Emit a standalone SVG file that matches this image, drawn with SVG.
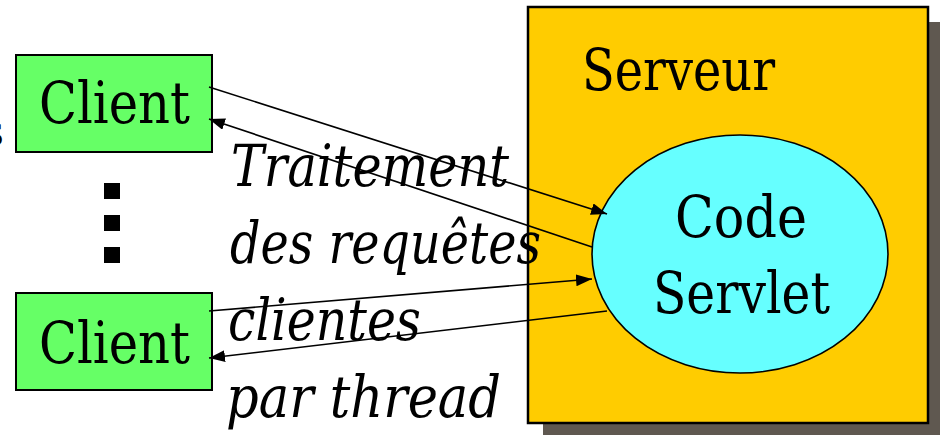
<svg xmlns="http://www.w3.org/2000/svg" width="940" height="435" viewBox="0 0 940 435">
<style>
text{font-family:'DejaVu Serif','Liberation Serif',serif;font-size:57px;fill:#000}
.i{font-style:italic}
.c{stroke:#000;stroke-width:1.6;fill:none}
.box{fill:#66ff66;stroke:#000;stroke-width:2}
</style>
<defs>
<marker id="ah" markerUnits="userSpaceOnUse" markerWidth="17" markerHeight="13" refX="16" refY="6" orient="auto">
<path d="M0,0 L16,6 L0,12 z" fill="#000"/>
</marker>
</defs>
<rect width="940" height="435" fill="#fff"/>
<text x="4" y="146" text-anchor="end" style="font-size:44px">s</text>
<g id="serveur">
<rect x="543" y="22" width="400" height="416" fill="#5f5850"/>
<rect x="528" y="7" width="400" height="416" fill="#ffcc00" stroke="#000" stroke-width="2.5"/>
<text x="582" y="90" textLength="193" lengthAdjust="spacingAndGlyphs">Serveur</text>
</g>
<g id="servlet">
<ellipse cx="740" cy="254" rx="148" ry="119" fill="#66ffff" stroke="#000" stroke-width="1.6"/>
<text x="675" y="237" textLength="132" lengthAdjust="spacingAndGlyphs">Code</text>
<text x="653" y="313" textLength="177" lengthAdjust="spacingAndGlyphs">Servlet</text>
</g>
<g id="client1">
<rect class="box" x="16" y="55" width="196" height="97"/>
<text x="39" y="123" textLength="151" lengthAdjust="spacingAndGlyphs">Client</text>
</g>
<g id="dots">
<rect x="104" y="183" width="16" height="16" fill="#000"/>
<rect x="104" y="215" width="16" height="16" fill="#000"/>
<rect x="104" y="247" width="16" height="16" fill="#000"/>
</g>
<g id="client2">
<rect class="box" x="16" y="293" width="196" height="97"/>
<text x="39" y="363" textLength="151" lengthAdjust="spacingAndGlyphs">Client</text>
</g>
<g id="label">
<text class="i" x="231" y="186" textLength="278" lengthAdjust="spacingAndGlyphs">Traitement</text>
<text class="i" x="230" y="263" textLength="311" lengthAdjust="spacingAndGlyphs">des requêtes</text>
<text class="i" x="228" y="340" textLength="193" lengthAdjust="spacingAndGlyphs">clientes</text>
<text class="i" x="226" y="417" textLength="275" lengthAdjust="spacingAndGlyphs">par thread</text>
</g>
<g id="connectors">
<path class="c" d="M209,87 L607,214" marker-end="url(#ah)"/>
<path class="c" d="M592,247 L209,119" marker-end="url(#ah)"/>
<path class="c" d="M209,311 L592,279" marker-end="url(#ah)"/>
<path class="c" d="M607,311 L209,358" marker-end="url(#ah)"/>
</g>
</svg>
